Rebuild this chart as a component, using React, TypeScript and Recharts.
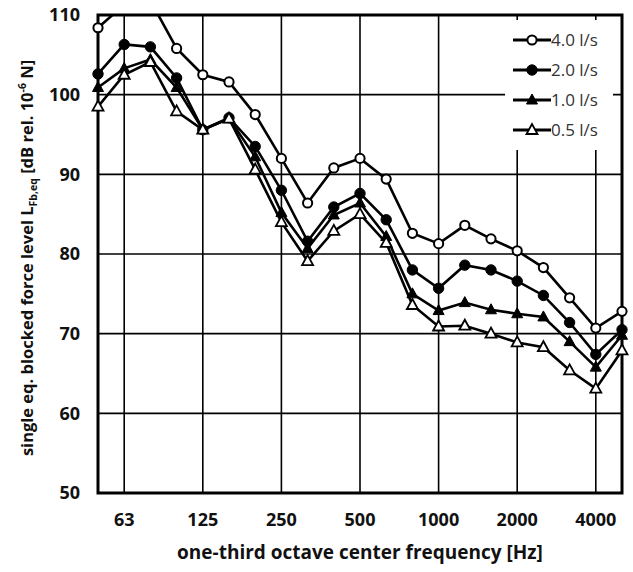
import React from "react";
import {
  LineChart,
  Line,
  XAxis,
  YAxis,
  CartesianGrid,
  Legend,
  ReferenceArea,
} from "recharts";

// one-third octave bands (Hz)
const bands = [
  "50", "63", "80", "100", "125", "160", "200", "250", "315", "400", "500",
  "630", "800", "1000", "1250", "1600", "2000", "2500", "3150", "4000", "5000",
];
const labelledBands = ["63", "125", "250", "500", "1000", "2000", "4000"];
const yTicks = [50, 60, 70, 80, 90, 100, 110];

// blocked force level per flow rate (dB)
const flow40 = [108.4, 111.3, 111.8, 105.8, 102.5, 101.6, 97.5, 92.0, 86.4, 90.8, 92.0, 89.4, 82.6, 81.3, 83.6, 81.9, 80.4, 78.3, 74.5, 70.7, 72.8];
const flow20 = [102.6, 106.3, 106.0, 102.1, 95.6, 97.1, 93.5, 88.0, 81.6, 85.9, 87.6, 84.3, 78.0, 75.7, 78.6, 78.0, 76.6, 74.8, 71.4, 67.4, 70.5];
const flow10 = [100.9, 103.3, 104.4, 100.9, 95.6, 97.0, 92.2, 85.2, 80.7, 84.9, 86.4, 82.2, 75.0, 72.9, 73.9, 73.0, 72.5, 72.1, 69.0, 65.8, 69.8];
const flow05 = [98.5, 102.5, 104.1, 97.9, 95.6, 97.0, 90.6, 84.0, 79.1, 82.9, 85.0, 81.4, 73.6, 70.9, 71.0, 70.0, 68.9, 68.3, 65.4, 63.1, 67.9];

const series = [
  { key: "f40", name: "4.0 l/s", values: flow40, marker: "openCircle" },
  { key: "f20", name: "2.0 l/s", values: flow20, marker: "circle" },
  { key: "f10", name: "1.0 l/s", values: flow10, marker: "triangle" },
  { key: "f05", name: "0.5 l/s", values: flow05, marker: "openTriangle" },
];

const data = bands.map((b, i) => {
  const row: Record<string, number | string> = { i, band: b };
  series.forEach((s) => (row[s.key] = s.values[i]));
  return row;
});

const FONT = "'Open Sans', 'DejaVu Sans', sans-serif";

function Marker({ cx, cy, kind }: { cx: number; cy: number; kind: string }) {
  if (cx == null || cy == null) return null;
  if (kind === "openCircle")
    return <circle cx={cx} cy={cy} r={4.6} fill="#fff" stroke="#000" strokeWidth={2} />;
  if (kind === "circle")
    return <circle cx={cx} cy={cy} r={5.2} fill="#000" stroke="#000" strokeWidth={1} />;
  const h = 10;
  const w = 11;
  const pts = `${cx},${cy - h / 2 - 1} ${cx - w / 2},${cy + h / 2 - 1} ${cx + w / 2},${cy + h / 2 - 1}`;
  if (kind === "triangle") return <polygon points={pts} fill="#000" stroke="#000" strokeWidth={1} />;
  return <polygon points={pts} fill="#fff" stroke="#000" strokeWidth={1.8} />;
}

function LegendBox() {
  return (
    <div style={{ paddingTop: 5 }}>
      {series.map((s) => (
        <div key={s.key} style={{ display: "flex", alignItems: "center", height: 30 }}>
          <svg width={46} height={30} style={{ display: "block" }}>
            <line x1={8} x2={46} y1={15} y2={15} stroke="#000" strokeWidth={3} />
            <Marker cx={27} cy={15} kind={s.marker} />
          </svg>
          <span style={{ fontFamily: FONT, fontSize: 17, color: "#333", lineHeight: "30px" }}>
            {s.name}
          </span>
        </div>
      ))}
    </div>
  );
}

export default function App() {
  return (
    <div style={{ position: "absolute", left: 0, top: 0, width: 633, height: 572, background: "#fff" }}>
      <LineChart
        width={633}
        height={572}
        data={data}
        margin={{ top: 15, right: 11, bottom: 19, left: 38 }}
      >
        <CartesianGrid stroke="#000" strokeWidth={1.6} />
        <XAxis
          dataKey="i"
          type="number"
          domain={[0, 20]}
          ticks={labelledBands.map((b) => bands.indexOf(b))}
          tickFormatter={(v) => bands[v]}
          height={60}
          axisLine={false}
          tickLine={false}
          tickMargin={14}
          tick={{ fill: "#111", fontSize: 18, fontWeight: 700, fontFamily: FONT }}
          label={{
            content: () => (
              <text x={360} y={559} textAnchor="middle" fontFamily={FONT} fontWeight={700} fontSize={19} fill="#111">
                one-third octave center frequency [Hz]
              </text>
            ),
          }}
        />
        <YAxis
          type="number"
          domain={[50, 110]}
          ticks={yTicks}
          allowDataOverflow
          width={60}
          axisLine={false}
          tickLine={false}
          tickMargin={12}
          tick={{ fill: "#111", fontSize: 18, fontWeight: 700, fontFamily: FONT }}
          label={{
            content: () => (
              <text
                transform="translate(33,258) rotate(-90)"
                textAnchor="middle"
                fontFamily={FONT}
                fontWeight={700}
                fontSize={16.5}
                fill="#111"
              >
                single eq. blocked force level L
                <tspan dy={4} fontSize={10.5}>Fb,eq</tspan>
                <tspan dy={-4}> [dB rel. 10</tspan>
                <tspan dy={-7} fontSize={10.5}>-6</tspan>
                <tspan dy={7}> N]</tspan>
              </text>
            ),
          }}
        />
        <ReferenceArea x1={0} x2={20} y1={50} y2={110} fill="none" stroke="#000" strokeWidth={3} />
        {series.map((s) => (
          <Line
            key={s.key}
            dataKey={s.key}
            name={s.name}
            stroke="#000"
            strokeWidth={2.6}
            isAnimationActive={false}
            dot={(p: any) => <Marker key={`${s.key}-${p.index}`} cx={p.cx} cy={p.cy} kind={s.marker} />}
            activeDot={false}
          />
        ))}
        <Legend
          layout="vertical"
          align="center"
          verticalAlign="middle"
          content={() => <LegendBox />}
          wrapperStyle={{ position: "absolute", left: 505, top: 20, width: 108, height: 130, background: "#fff" }}
        />
      </LineChart>
    </div>
  );
}
